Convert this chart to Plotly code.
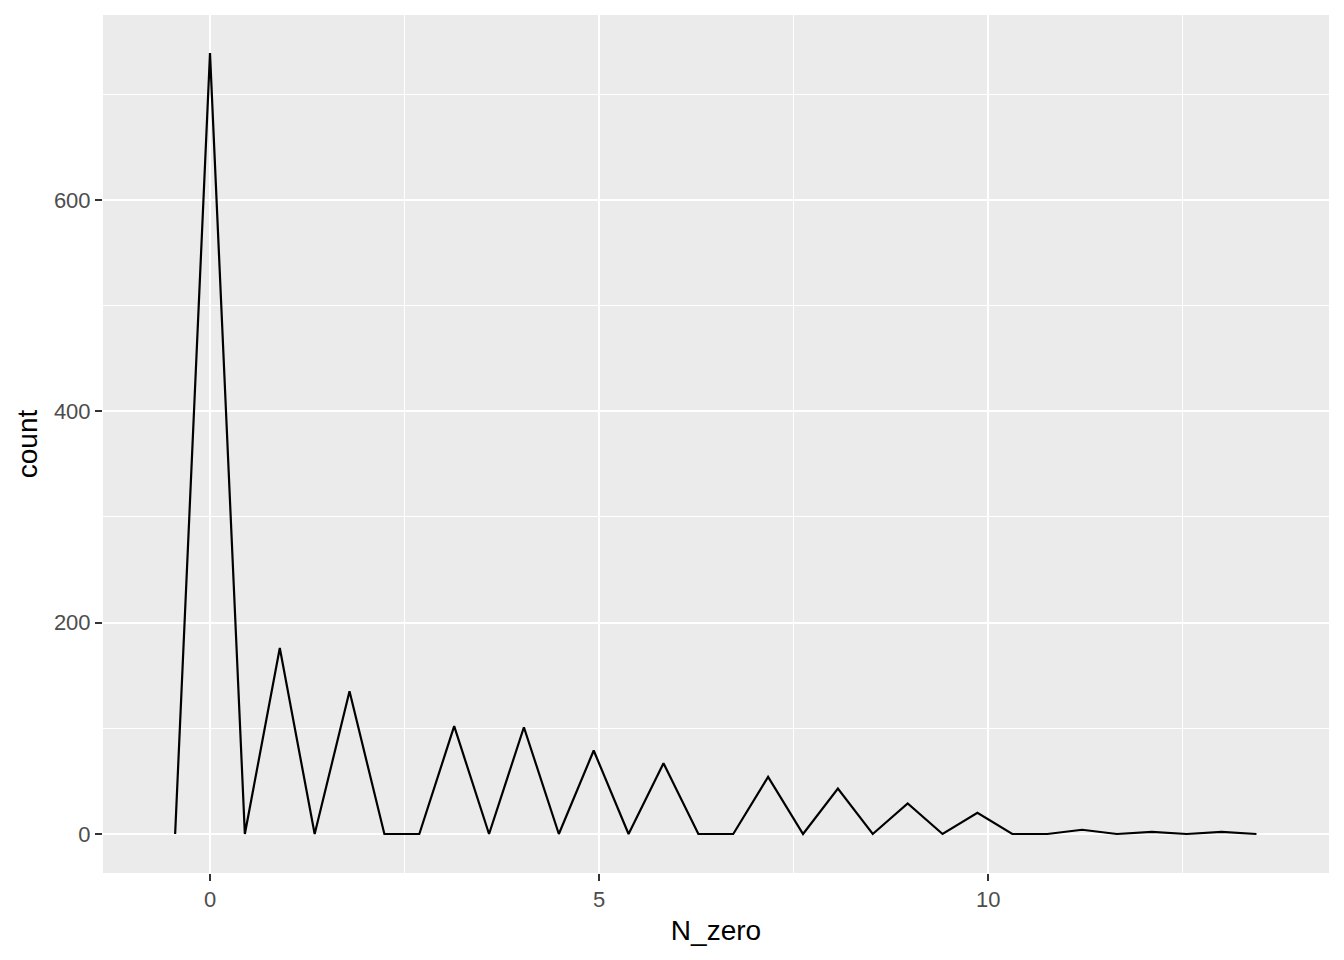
import plotly.graph_objects as go

# bin centres (N_zero) and counts read from the frequency polygon
n_zero = [-0.448, 0.0, 0.448, 0.897, 1.345, 1.793, 2.241, 2.690, 3.138, 3.586,
          4.034, 4.483, 4.931, 5.379, 5.828, 6.276, 6.724, 7.172, 7.621, 8.069,
          8.517, 8.966, 9.414, 9.862, 10.310, 10.759, 11.207, 11.655, 12.103,
          12.552, 13.0, 13.448]
counts = [0, 739, 0, 176, 0, 135, 0, 0, 102, 0,
          101, 0, 79, 0, 67, 0, 0, 54, 0, 43,
          0, 29, 0, 20, 0, 0, 4, 0, 2, 0,
          2, 0]

x_ticks = [0, 5, 10]
y_ticks = [0, 200, 400, 600]

fig = go.Figure()
fig.add_trace(go.Scatter(x=n_zero, y=counts, mode="lines",
                         line=dict(color="black", width=2.2), showlegend=False))

font = "Liberation Sans, Arial, sans-serif"
axis_common = dict(
    showgrid=True, gridcolor="white", gridwidth=2.2,
    zeroline=False, showline=False,
    ticks="outside", ticklen=7, tickwidth=2, tickcolor="#333333",
    tickfont=dict(family=font, size=22, color="#4d4d4d"),
    title_font=dict(family=font, size=28, color="black"),
)
fig.update_xaxes(**axis_common, range=[-1.375, 14.38], tickvals=x_ticks,
                 minor=dict(dtick=2.5, tick0=0, showgrid=True, gridcolor="white", gridwidth=1.1),
                 title_text="N_zero", title_standoff=8)
fig.update_yaxes(**axis_common, range=[-36.9, 775], tickvals=y_ticks,
                 minor=dict(dtick=100, tick0=0, showgrid=True, gridcolor="white", gridwidth=1.1),
                 title_text="count", title_standoff=8)
fig.update_layout(
    width=1336, height=952,
    margin=dict(l=95, r=15, t=7, b=87),
    plot_bgcolor="#ebebeb", paper_bgcolor="white",
)
fig.write_html("out.html")
